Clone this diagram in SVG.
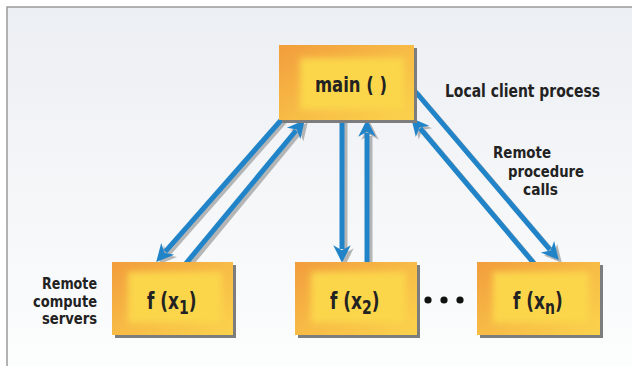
<svg xmlns="http://www.w3.org/2000/svg" width="632" height="366" viewBox="0 0 632 366">
<style>
.lbl{font-family:"Liberation Sans Narrow","DejaVu Sans Condensed","Liberation Sans",sans-serif;font-weight:bold;fill:#222}
.box{fill:url(#boxg)}
.inner{fill:#fbd64c;filter:url(#soft)}
.shadow{fill:#7d7d7d}
.arr{stroke:#2184c8;stroke-width:5;fill:none;marker-end:url(#head)}
.arrs{stroke:#8a8a8a;stroke-width:5;fill:none;marker-end:url(#heads);opacity:0.6}
</style>
<defs>
<linearGradient id="bg" x1="0" y1="0" x2="0" y2="1">
<stop offset="0" stop-color="#eceff3"/>
<stop offset="1" stop-color="#fcfdfd"/>
</linearGradient>
<linearGradient id="boxg" x1="0" y1="0" x2="1" y2="1">
<stop offset="0" stop-color="#f29d3c"/>
<stop offset="0.5" stop-color="#f7bb46"/>
<stop offset="1" stop-color="#fbd24c"/>
</linearGradient>
<filter id="soft" x="-20%" y="-20%" width="140%" height="140%">
<feGaussianBlur stdDeviation="3"/>
</filter>
<marker id="head" markerUnits="userSpaceOnUse" markerWidth="20" markerHeight="20" viewBox="0 -8 16 16" refX="3" refY="0" orient="auto">
<path d="M0,-7 L14,0 L0,7 L4,0 Z" fill="#2184c8"/>
</marker>
<marker id="heads" markerUnits="userSpaceOnUse" markerWidth="20" markerHeight="20" viewBox="0 -8 16 16" refX="3" refY="0" orient="auto">
<path d="M0,-7 L14,0 L0,7 L4,0 Z" fill="#8a8a8a"/>
</marker>
</defs>
<rect x="0" y="0" width="632" height="366" fill="#ffffff"/>
<rect x="7" y="7" width="625" height="359" fill="url(#bg)"/>
<path d="M7,366 L7,7 L632,7" fill="none" stroke="#9a9a9a" stroke-width="1.5"/>

<g id="connectors">
<g id="a1">
<line class="arrs" x1="292" y1="113" x2="168" y2="254"/>
<line class="arr" x1="290" y1="110" x2="165.3" y2="251.7"/>
</g>
<g id="a2">
<line class="arrs" x1="186" y1="270" x2="299" y2="133"/>
<line class="arr" x1="183" y1="267" x2="296" y2="130.5"/>
</g>
<g id="a3">
<line class="arrs" x1="345" y1="118" x2="345" y2="252"/>
<line class="arr" x1="342" y1="115" x2="342" y2="249"/>
</g>
<g id="a4">
<line class="arrs" x1="370" y1="270" x2="370" y2="136"/>
<line class="arr" x1="367" y1="267" x2="367" y2="133"/>
</g>
<g id="a5">
<line class="arrs" x1="540" y1="270" x2="423" y2="131"/>
<line class="arr" x1="537" y1="267" x2="420.1" y2="128.4"/>
</g>
<g id="a6">
<line class="arrs" x1="417" y1="93" x2="553" y2="252.6"/>
<line class="arr" x1="414" y1="90" x2="549.9" y2="249.6"/>
</g>
</g>

<g id="main">
<rect class="shadow" x="282" y="48" width="135" height="75"/>
<rect class="box" x="279" y="45" width="135" height="75"/>
<rect class="inner" x="300" y="58" width="104" height="52"/>
<text class="lbl" x="351" y="92" font-size="22" text-anchor="middle" textLength="72" lengthAdjust="spacingAndGlyphs">main ( )</text>
</g>

<g id="fx1">
<rect class="shadow" x="115" y="265" width="121" height="73"/>
<rect class="box" x="112" y="262" width="121" height="73"/>
<rect class="inner" x="128" y="272" width="94" height="51"/>
<text class="lbl" transform="translate(147,309) scale(0.82,1)" x="0" y="0" font-size="23">f (x<tspan font-size="19" dy="5">1</tspan><tspan dy="-5">)</tspan></text>
</g>

<g id="fx2">
<rect class="shadow" x="298" y="265" width="122" height="73"/>
<rect class="box" x="295" y="262" width="122" height="73"/>
<rect class="inner" x="311" y="272" width="95" height="51"/>
<text class="lbl" transform="translate(330,309) scale(0.82,1)" x="0" y="0" font-size="23">f (x<tspan font-size="19" dy="5">2</tspan><tspan dy="-5">)</tspan></text>
</g>

<g id="fxn">
<rect class="shadow" x="480" y="265" width="123" height="73"/>
<rect class="box" x="477" y="262" width="123" height="73"/>
<rect class="inner" x="493" y="272" width="96" height="51"/>
<text class="lbl" transform="translate(513,309) scale(0.82,1)" x="0" y="0" font-size="23">f (x<tspan font-size="19" dy="5">n</tspan><tspan dy="-5">)</tspan></text>
</g>

<g id="dots" fill="#111">
<circle cx="428" cy="300" r="3.6"/>
<circle cx="444" cy="300" r="3.6"/>
<circle cx="460" cy="300" r="3.6"/>
</g>

<g id="labels">
<text class="lbl" x="445" y="97" font-size="17" textLength="155" lengthAdjust="spacingAndGlyphs">Local client process</text>
<text class="lbl" x="493" y="158" font-size="16" textLength="58" lengthAdjust="spacingAndGlyphs">Remote</text>
<text class="lbl" x="508" y="176.5" font-size="16" textLength="76" lengthAdjust="spacingAndGlyphs">procedure</text>
<text class="lbl" x="523" y="195" font-size="16" textLength="35" lengthAdjust="spacingAndGlyphs">calls</text>
<text class="lbl" x="97" y="289" font-size="16" text-anchor="end" textLength="55" lengthAdjust="spacingAndGlyphs">Remote</text>
<text class="lbl" x="97" y="306.5" font-size="16" text-anchor="end" textLength="64" lengthAdjust="spacingAndGlyphs">compute</text>
<text class="lbl" x="97" y="324" font-size="16" text-anchor="end" textLength="55" lengthAdjust="spacingAndGlyphs">servers</text>
</g>
</svg>
